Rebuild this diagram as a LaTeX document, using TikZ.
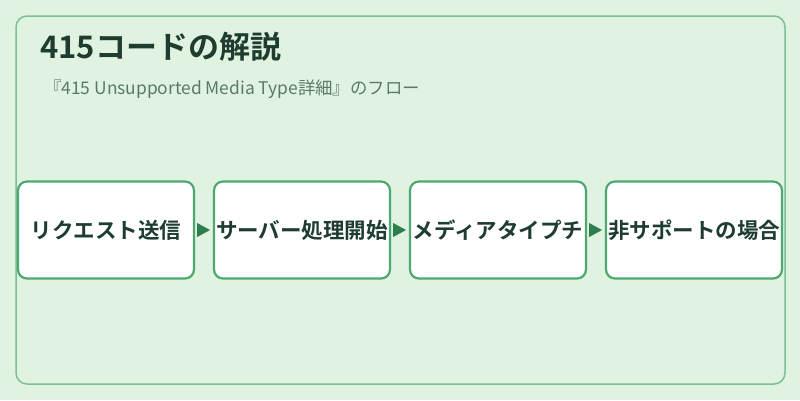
\documentclass[tikz,border=0pt]{standalone}
\usepackage{fontspec}
\setmainfont{Noto Sans CJK JP}
\newfontfamily\jpbold{Noto Sans CJK JP Bold}
\usetikzlibrary{positioning}
\definecolor{pagebg}{HTML}{E0F2E0}
\definecolor{frameline}{HTML}{7DBF94}
\definecolor{boxline}{HTML}{4EA870}
\definecolor{arrowfill}{HTML}{2E7D4F}
\definecolor{textdark}{HTML}{1E3D30}
\definecolor{textsub}{HTML}{5A7A66}
\tikzset{
  flow box/.style={
    draw=boxline,
    line width=2.2pt,
    fill=white,
    rounded corners=9pt,
    minimum width=176pt,
    minimum height=97pt,
    inner sep=0pt,
    font=\jpbold\fontsize{21.5}{24}\selectfont,
    text=textdark
  },
  flow arrow/.style={
    fill=arrowfill
  }
}
\begin{document}
\begin{tikzpicture}[x=1pt,y=-1pt]
\useasboundingbox[fill=pagebg] (0,0) rectangle (800,400);
\draw[frameline, line width=1.5pt, rounded corners=11pt] (16,16) rectangle (785,384);
\node[anchor=west, inner sep=0pt, text=textdark, font=\jpbold\fontsize{31}{36}\selectfont] (title) at (40,47) {415コードの解説};
\node[anchor=west, inner sep=0pt, text=textsub, font=\fontsize{17.4}{20}\selectfont] (subtitle) at (44,89) {『415 Unsupported Media Type詳細』のフロー};
% flow
\node[flow box] (request) at (106,230) {リクエスト送信};
\node[flow box, right=17.8pt of request] (server) {サーバー処理開始};
\node[flow box, right=17.8pt of server] (media) {メディアタイプチ};
\node[flow box, right=17.8pt of media] (unsupported) {非サポートの場合};
\foreach \from/\to in {request/server, server/media, media/unsupported} {
  \fill[flow arrow] ([xshift=2pt]\from.east) ++(0,-7) -- ++(13,7) -- ++(-13,7) -- cycle;
}
\end{tikzpicture}
\end{document}
